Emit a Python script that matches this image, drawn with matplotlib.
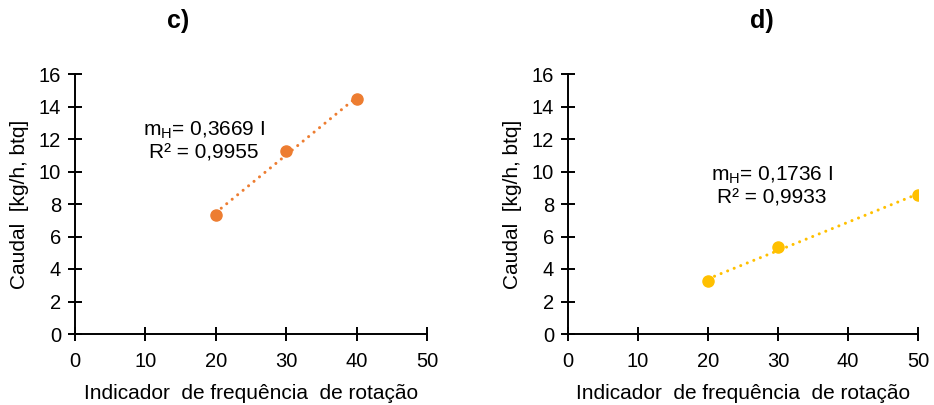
import numpy as np
import matplotlib
matplotlib.use("Agg")
import matplotlib.pyplot as plt

plt.rcParams['font.family'] = ['Liberation Sans', 'DejaVu Sans']
plt.rcParams['mathtext.fontset'] = 'custom'
plt.rcParams['mathtext.rm'] = 'Liberation Sans'

# Panel c)
freq_c = [20, 30, 40]
flow_c = [7.35, 11.25, 14.45]
slope_c = "0,3669"
r2_c = "0,9955"

# Panel d)
freq_d = [20, 30, 50]
flow_d = [3.25, 5.35, 8.55]
slope_d = "0,1736"
r2_d = "0,9933"

x_ticks = [0, 10, 20, 30, 40, 50]
y_ticks = [0, 2, 4, 6, 8, 10, 12, 14, 16]
xlabel = "Indicador  de frequência  de rotação"
ylabel = "Caudal  [kg/h, btq]"

fig = plt.figure(figsize=(9.34, 4.05), dpi=100)
ax_c = fig.add_axes([75/934, 1-334/405, 352/934, 260/405])
ax_d = fig.add_axes([568/934, 1-334/405, 350/934, 260/405])


def draw(ax, x, y, color, label_pos, slope, r2):
    coef = np.polyfit(x, y, 1)
    xs = np.array([min(x), max(x)])
    ax.plot(xs, np.polyval(coef, xs), color=color, lw=2.2,
            linestyle=(0, (0.01, 2.3)), dash_capstyle='round', zorder=2)
    ax.plot(x, y, 'o', color=color, ms=8, zorder=3)
    ax.set_xlim(0, 50)
    ax.set_ylim(0, 16)
    ax.set_xticks(x_ticks)
    ax.set_yticks(y_ticks)
    for s in ('top', 'right'):
        ax.spines[s].set_visible(False)
    for s in ('left', 'bottom'):
        ax.spines[s].set_linewidth(1.4)
        ax.spines[s].set_color('#000000')
    ax.tick_params(direction='inout', length=10, width=1.4, labelsize=14.5,
                   colors='#000000')
    ax.tick_params(axis='x', pad=8)
    ax.tick_params(axis='y', pad=5)
    ax.set_xlabel(xlabel, fontsize=15, labelpad=9)
    ax.set_ylabel(ylabel, fontsize=15, labelpad=7)
    ax.text(label_pos[0], label_pos[1],
            r"m$_\mathregular{H}$= " + slope + " I\nR² = " + r2,
            ha='center', va='center', fontsize=15, linespacing=1.15)


draw(ax_c, freq_c, flow_c, '#ED7D31', (18.3, 11.9), slope_c, r2_c)
draw(ax_d, freq_d, flow_d, '#FFC000', (29.1, 9.1), slope_d, r2_d)

fig.text(178/934, 1-21/405, "c)", ha='center', va='center',
         fontsize=18, fontweight='bold')
fig.text(762/934, 1-21/405, "d)", ha='center', va='center',
         fontsize=18, fontweight='bold')

fig.savefig("out.png", dpi=100)
